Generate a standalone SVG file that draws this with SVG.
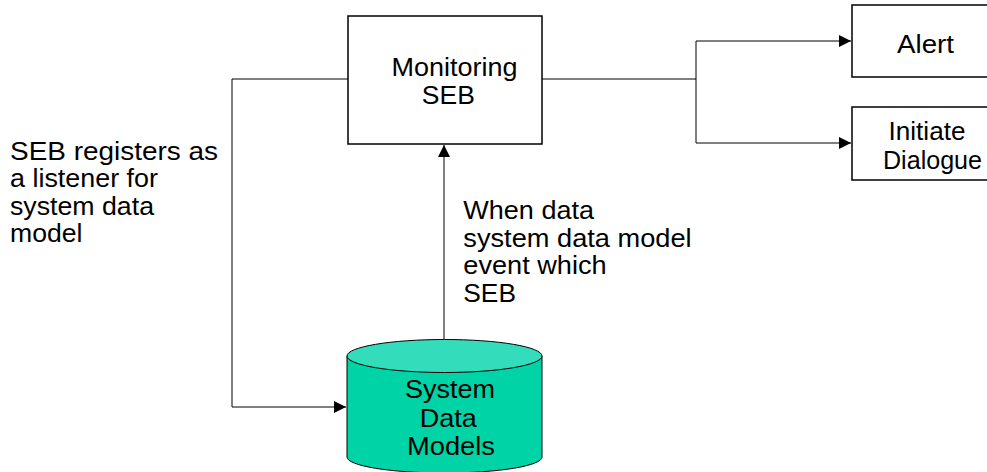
<svg xmlns="http://www.w3.org/2000/svg" width="987" height="472" viewBox="0 0 987 472">
<defs>
<style>
.box{fill:#fff;stroke:#000;stroke-width:1.5}
.t{font-family:"Liberation Sans",Arial,sans-serif;font-size:26px;fill:#000}
.c{text-anchor:middle}
.ln{fill:none;stroke:#000;stroke-width:1}
</style>
<marker id="ah" viewBox="0 0 12 12" refX="12" refY="6" markerWidth="12" markerHeight="12" markerUnits="userSpaceOnUse" orient="auto">
<path d="M0,0 L12,6 L0,12 Z" fill="#000"/>
</marker>
</defs>
<rect width="987" height="472" fill="#fff"/>
<g id="connectors">
<polyline class="ln" points="348,79 232,79 232,407 346,407" marker-end="url(#ah)"/>
<polyline class="ln" points="542,79 696,79"/>
<polyline class="ln" points="696,79 696,41 851,41" marker-end="url(#ah)"/>
<polyline class="ln" points="696,79 696,143 851,143" marker-end="url(#ah)"/>
<line class="ln" x1="444" y1="339" x2="444" y2="145" marker-end="url(#ah)"/>
</g>
<g id="monitoring">
<rect class="box" x="348" y="16" width="194" height="128"/>
<text class="t c" x="454.5" y="76" textLength="126" lengthAdjust="spacingAndGlyphs">Monitoring</text>
<text class="t c" x="448.3" y="103.5" textLength="53" lengthAdjust="spacingAndGlyphs">SEB</text>
</g>
<g id="alert">
<rect class="box" x="852" y="5" width="150" height="72"/>
<text class="t c" x="925.5" y="53" textLength="57" lengthAdjust="spacingAndGlyphs">Alert</text>
</g>
<g id="dialogue">
<rect class="box" x="852" y="107" width="150" height="73"/>
<text class="t c" x="927" y="139.5" textLength="77" lengthAdjust="spacingAndGlyphs">Initiate</text>
<text class="t c" x="932.5" y="168.5" textLength="99" lengthAdjust="spacingAndGlyphs">Dialogue</text>
</g>
<g id="sdm">
<path d="M347,356 L347,457 A97.5,16 0 0 0 542,457 L542,356 Z" fill="#00D3A6" stroke="#000" stroke-width="1"/>
<ellipse cx="444.5" cy="356" rx="97.5" ry="16.5" fill="#33DDBB" stroke="#000" stroke-width="1"/>
<text class="t c" x="450" y="398" textLength="90" lengthAdjust="spacingAndGlyphs">System</text>
<text class="t c" x="448.3" y="426.5" textLength="57" lengthAdjust="spacingAndGlyphs">Data</text>
<text class="t c" x="451" y="455" textLength="88" lengthAdjust="spacingAndGlyphs">Models</text>
</g>
<g id="label-left">
<text class="t" x="10" y="159.5" textLength="208" lengthAdjust="spacingAndGlyphs">SEB registers as</text>
<text class="t" x="10" y="187" textLength="148" lengthAdjust="spacingAndGlyphs">a listener for</text>
<text class="t" x="10" y="214.5" textLength="144" lengthAdjust="spacingAndGlyphs">system data</text>
<text class="t" x="10" y="242" textLength="72.5" lengthAdjust="spacingAndGlyphs">model</text>
</g>
<g id="label-mid">
<text class="t" x="463.3" y="219" textLength="130.7" lengthAdjust="spacingAndGlyphs">When data</text>
<text class="t" x="463.3" y="246.6" textLength="228.3" lengthAdjust="spacingAndGlyphs">system data model</text>
<text class="t" x="463.3" y="274.2" textLength="143.3" lengthAdjust="spacingAndGlyphs">event which</text>
<text class="t" x="463.3" y="301.8" textLength="52.7" lengthAdjust="spacingAndGlyphs">SEB</text>
</g>
</svg>
